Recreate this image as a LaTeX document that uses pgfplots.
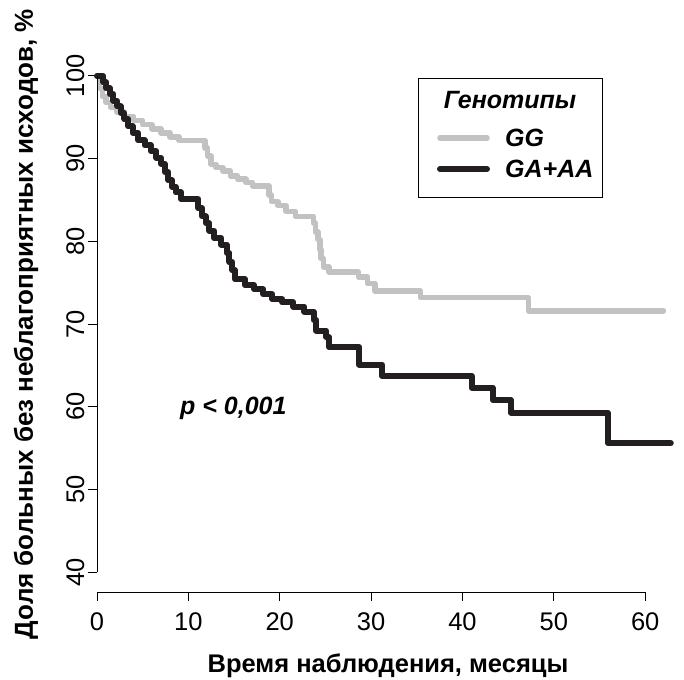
\documentclass[border=0pt]{standalone}
\usepackage{fontspec}
\setmainfont{Liberation Sans}
\usepackage{pgfplots}
\pgfplotsset{compat=1.18}
\definecolor{ggcol}{RGB}{194,194,194}
\definecolor{gacol}{RGB}{35,31,32}
\begin{document}
\begin{tikzpicture}
\begin{axis}[
  scale only axis,
  width=582pt, height=536pt,
  xmin=0, xmax=63.7, ymin=37.6, ymax=102.4,
  axis line style={draw=none},
  xtick={0,10,...,60}, ytick={40,50,...,100},
  xtick pos=left, ytick pos=left,
  tick align=outside,
  major tick length=9pt,
  every tick/.style={black, line width=0.9pt},
  /pgf/number format/assume math mode=true,
  tick label style={font=\fontsize{25.5}{30}\selectfont},
  yticklabel style={rotate=90, anchor=south},
  xticklabel shift=8pt,
  xlabel={Время наблюдения, месяцы},
  ylabel={Доля больных без неблагоприятных исходов, \%},
  xlabel style={font=\fontsize{25.5}{30}\selectfont\bfseries, at={(axis description cs:0.5,-0.138)}, anchor=center},
  ylabel style={font=\fontsize{26}{31}\selectfont\bfseries, at={(axis description cs:-0.122,0.5)}, anchor=center},
  clip=false,
]
\addplot[const plot, ggcol, line width=5.5pt, line cap=round, line join=round] coordinates {
(0,100) (0.3,98.5) (0.6,97.5) (1,96.8) (1.5,96.2) (2.2,95.6) (3,95.1) (4,94.6)
(5,94.1) (6,93.6) (7,93.1) (8,92.6) (9,92.2) (11.8,91.3) (12.1,90.3) (12.5,89.3)
(13,88.9) (13.8,88.5) (14.6,87.9) (15.4,87.5) (16.3,87.1) (17.0,86.7) (18.8,85.6)
(19.1,84.8) (19.8,84.3) (20.7,83.6) (21.7,83.0) (23.7,82.2) (23.9,81.1) (24.2,80.2)
(24.4,79.0) (24.5,77.9) (24.8,76.9) (25.4,76.3) (28.6,75.7) (29.6,74.9) (30.4,74.0)
(35.4,73.2) (47.2,71.6) (62.0,71.6)
};
\addplot[const plot, gacol, line width=6pt, line cap=round, line join=round] coordinates {
(0,100) (0.7,99.2) (1,98.5) (1.4,97.8) (1.8,97) (2.2,96.3) (2.6,95.5) (3,94.8)
(3.4,93.9) (3.9,93.1) (4.5,92.2) (5.2,91.6) (5.9,90.9) (6.5,90.1) (7,89.4)
(7.4,88.4) (7.8,87.4) (8.2,86.6) (8.6,85.9) (9.2,85.1) (11.1,84) (11.5,83)
(11.9,82.2) (12.3,81.3) (12.8,80.4) (13.6,79.6) (14.2,78.6) (14.5,77.5) (14.8,76.5)
(15.1,75.4) (16.2,74.7) (17.2,74.2) (18.2,73.6) (19.2,73.0) (20.3,72.6) (21.5,72.1)
(22.7,71.5) (23.7,70.5) (24,69.2) (25.1,68.4) (25.4,67.2) (28.7,65.1) (31.2,63.7)
(41.0,62.3) (43.3,60.8) (45.3,59.3) (55.9,55.6) (62.8,55.6)
};
% R-style axis lines
\draw[black, line width=0.9pt] (axis cs:0,37.6) -- (axis cs:60,37.6);
\draw[black, line width=0.9pt] (axis cs:0,40) -- (axis cs:0,100);
\end{axis}
% legend
\draw[black, line width=0.8pt] (321pt,395pt) rectangle (505pt,514pt);
\node[font=\fontsize{25}{30}\selectfont\bfseries\itshape] at (413pt,492pt) {Генотипы};
\draw[ggcol, line width=5.5pt, line cap=round] (343pt,454pt) -- (390pt,454pt);
\draw[gacol, line width=6pt, line cap=round] (343pt,423pt) -- (390pt,423pt);
\node[font=\fontsize{25}{30}\selectfont\bfseries\itshape, anchor=west, inner sep=0pt] at (408pt,454pt) {GG};
\node[font=\fontsize{25}{30}\selectfont\bfseries\itshape, anchor=west, inner sep=0pt] at (408pt,423pt) {GA+AA};
% p-value
\node[font=\fontsize{25}{30}\selectfont\bfseries\itshape, anchor=west, inner sep=0pt] at (83pt,184pt) {p < 0,001};
\pgfresetboundingbox
\path (-97pt,-87pt) rectangle (587pt,592pt);
\end{tikzpicture}
\end{document}
